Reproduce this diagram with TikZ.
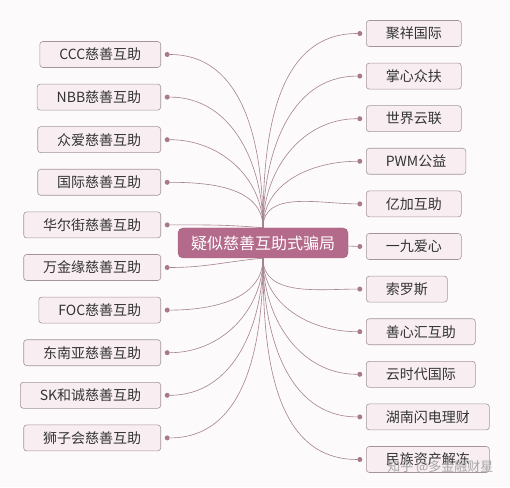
\documentclass[tikz,border=0pt]{standalone}
\usepackage{fontspec}
\setmainfont{Noto Sans CJK SC}
\usetikzlibrary{positioning, backgrounds}
\definecolor{hubfill}{HTML}{B36A8B}
\definecolor{hubline}{HTML}{A65D7E}
\definecolor{boxfill}{HTML}{F8EEF1}
\definecolor{boxline}{HTML}{A3959A}
\definecolor{linecol}{HTML}{A48290}
\definecolor{dotcol}{HTML}{A8798C}
\definecolor{textgray}{HTML}{333333}
\definecolor{bgcol}{HTML}{FDFAFB}

\begin{document}
\begin{tikzpicture}[
  font=\fontsize{14}{16}\selectfont,
  lbox/.style={draw=boxline, fill=boxfill, rounded corners=3pt, minimum height=26pt, inner xsep=19.5pt, text=textgray, line width=0.6pt},
  hubbox/.style={draw=hubline, fill=hubfill, rounded corners=5pt, minimum width=170pt, minimum height=30pt, text=white, font=\fontsize{16}{18}\selectfont},
  dot/.style={circle, fill=dotcol, inner sep=0pt, minimum size=5pt},
  ln/.style={draw=linecol, line width=0.6pt},
  wm/.style={text=black!35, font=\fontsize{13}{15}\selectfont}
]
\useasboundingbox (0,0) rectangle (510pt,487pt);
\node[hubbox] (hub) at (263pt,244pt) {疑似慈善互助式骗局};

% left column
\node[lbox, anchor=east] (ccc) at (161pt,432.5pt) {CCC慈善互助};
\node[lbox, below=16pt of ccc.south east, anchor=north east] (nbb) {NBB慈善互助};
\node[lbox, below=16pt of nbb.south east, anchor=north east] (zhongai) {众爱慈善互助};
\node[lbox, below=16pt of zhongai.south east, anchor=north east] (guoji) {国际慈善互助};
\node[lbox, below=16pt of guoji.south east, anchor=north east] (huaerjie) {华尔街慈善互助};
\node[lbox, below=16pt of huaerjie.south east, anchor=north east] (wanjinyuan) {万金缘慈善互助};
\node[lbox, below=16pt of wanjinyuan.south east, anchor=north east] (foc) {FOC慈善互助};
\node[lbox, below=16pt of foc.south east, anchor=north east] (dongnanya) {东南亚慈善互助};
\node[lbox, below=16pt of dongnanya.south east, anchor=north east] (skhc) {SK和诚慈善互助};
\node[lbox, below=16pt of skhc.south east, anchor=north east] (shizihui) {狮子会慈善互助};

% right column
\node[lbox, anchor=west] (juxiang) at (366pt,453.5pt) {聚祥国际};
\node[lbox, below=16pt of juxiang.south west, anchor=north west] (zhangxin) {掌心众扶};
\node[lbox, below=16pt of zhangxin.south west, anchor=north west] (shijie) {世界云联};
\node[lbox, below=16pt of shijie.south west, anchor=north west] (pwm) {PWM公益};
\node[lbox, below=16pt of pwm.south west, anchor=north west] (yijia) {亿加互助};
\node[lbox, below=16pt of yijia.south west, anchor=north west] (yijiu) {一九爱心};
\node[lbox, below=16pt of yijiu.south west, anchor=north west] (suoluosi) {索罗斯};
\node[lbox, below=16pt of suoluosi.south west, anchor=north west] (shanxin) {善心汇互助};
\node[lbox, below=16pt of shanxin.south west, anchor=north west] (yunshidai) {云时代国际};
\node[lbox, below=16pt of yunshidai.south west, anchor=north west] (hunan) {湖南闪电理财};
\node[lbox, below=16pt of hunan.south west, anchor=north west] (minzu) {民族资产解冻};

% dots
\node[dot, right=3.5pt of ccc] (ccc-d) {};
\node[dot, right=3.5pt of nbb] (nbb-d) {};
\node[dot, right=3.5pt of zhongai] (zhongai-d) {};
\node[dot, right=3.5pt of guoji] (guoji-d) {};
\node[dot, right=3.5pt of huaerjie] (huaerjie-d) {};
\node[dot, right=3.5pt of wanjinyuan] (wanjinyuan-d) {};
\node[dot, right=3.5pt of foc] (foc-d) {};
\node[dot, right=3.5pt of dongnanya] (dongnanya-d) {};
\node[dot, right=3.5pt of skhc] (skhc-d) {};
\node[dot, right=3.5pt of shizihui] (shizihui-d) {};
\node[dot, left=3.5pt of juxiang] (juxiang-d) {};
\node[dot, left=3.5pt of zhangxin] (zhangxin-d) {};
\node[dot, left=3.5pt of shijie] (shijie-d) {};
\node[dot, left=3.5pt of pwm] (pwm-d) {};
\node[dot, left=3.5pt of yijia] (yijia-d) {};
\node[dot, left=3.5pt of yijiu] (yijiu-d) {};
\node[dot, left=3.5pt of suoluosi] (suoluosi-d) {};
\node[dot, left=3.5pt of shanxin] (shanxin-d) {};
\node[dot, left=3.5pt of yunshidai] (yunshidai-d) {};
\node[dot, left=3.5pt of hunan] (hunan-d) {};
\node[dot, left=3.5pt of minzu] (minzu-d) {};

\node[wm, anchor=east] (mark) at (497pt,20pt) {知乎 @多金融财星};

\begin{scope}[on background layer]
\fill[bgcol] (0,0) rectangle (510pt,487pt);
% left connectors
\draw[ln] (ccc-d) to[out=0, in=90] (hub);
\draw[ln] (nbb-d) to[out=0, in=90] (hub);
\draw[ln] (zhongai-d) to[out=0, in=90] (hub);
\draw[ln] (guoji-d) to[out=0, in=90] (hub);
\draw[ln] (huaerjie-d) to[out=0, in=175] (hub.north);
\draw[ln] (wanjinyuan-d) to[out=0, in=185] (hub.south);
\draw[ln] (foc-d) to[out=0, in=270] (hub);
\draw[ln] (dongnanya-d) to[out=0, in=270] (hub);
\draw[ln] (skhc-d) to[out=0, in=270] (hub);
\draw[ln] (shizihui-d) to[out=0, in=270] (hub);
% right connectors
\draw[ln] (juxiang-d) to[out=180, in=90] (hub);
\draw[ln] (zhangxin-d) to[out=180, in=90] (hub);
\draw[ln] (shijie-d) to[out=180, in=90] (hub);
\draw[ln] (pwm-d) to[out=180, in=90] (hub);
\draw[ln] (yijia-d) to[out=180, in=90] (hub);
\draw[ln] (yijiu-d) -- (hub);
\draw[ln] (suoluosi-d) to[out=180, in=270] (hub);
\draw[ln] (shanxin-d) to[out=180, in=270] (hub);
\draw[ln] (yunshidai-d) to[out=180, in=270] (hub);
\draw[ln] (hunan-d) to[out=180, in=270] (hub);
\draw[ln] (minzu-d) to[out=180, in=270] (hub);
\end{scope}
\end{tikzpicture}
\end{document}
